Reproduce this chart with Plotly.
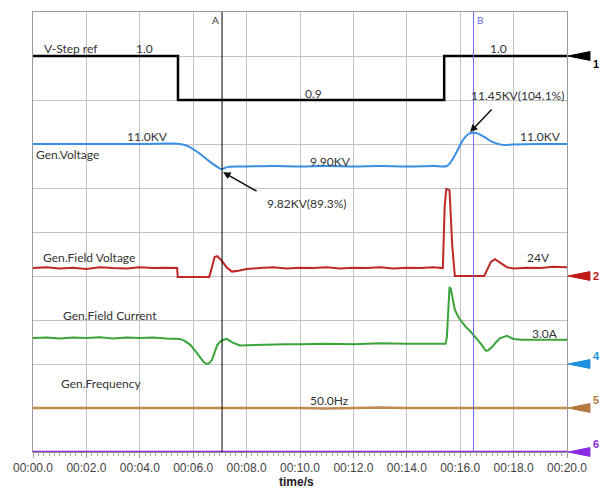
import plotly.graph_objects as go

# ---------------- data (screen divisions, oscilloscope style) ----------------
tick_vals = [0, 2, 4, 6, 8, 10, 12, 14, 16, 18, 20]
tick_text = ["00:00.0", "00:02.0", "00:04.0", "00:06.0", "00:08.0", "00:10.0",
             "00:12.0", "00:14.0", "00:16.0", "00:18.0", "00:20.0"]

vstep_t = [0, 5.43, 5.43, 15.4, 15.4, 20]
vstep_v = [9, 9, 8, 8, 9, 9]

volt_t = [0, 2, 4, 5.5, 5.8, 6.2, 6.6, 6.9, 7.05, 7.3, 8, 9, 10, 11, 12, 13, 14, 15, 15.5,
          15.7, 15.9, 16.1, 16.35, 16.6, 16.9, 17.2, 17.6, 18, 19, 20]
volt_v = [7.0, 7.0, 7.0, 7.0, 6.95, 6.8, 6.61, 6.48, 6.43, 6.48, 6.49, 6.5, 6.49, 6.5, 6.49,
          6.5, 6.49, 6.5, 6.5, 6.64, 6.86, 7.09, 7.24, 7.25, 7.16, 7.05, 6.98, 6.99, 7.0, 7.0]

fv_t = [0, 0.5, 1, 1.5, 2, 2.5, 3, 3.5, 4, 4.5, 5, 5.4, 5.42, 6.6, 6.68, 6.8, 6.9, 7.05,
        7.25, 7.45, 7.7, 8.0, 8.5, 9, 9.5, 10, 10.5, 11, 11.5, 12, 12.5, 13, 13.5, 14,
        14.5, 15, 15.35, 15.42, 15.48, 15.6, 15.7, 15.8, 16.9, 17.0, 17.15, 17.3, 17.5,
        17.75, 18.0, 18.5, 19, 19.5, 20]
fv_v = [4.18, 4.2, 4.17, 4.19, 4.16, 4.2, 4.18, 4.17, 4.2, 4.18, 4.19, 4.18, 3.98, 3.98,
        4.15, 4.43, 4.45, 4.36, 4.2, 4.1, 4.12, 4.16, 4.18, 4.2, 4.17, 4.19, 4.18, 4.2,
        4.17, 4.19, 4.18, 4.2, 4.17, 4.19, 4.18, 4.2, 4.18, 5.6, 5.98, 5.95, 4.7, 4.0,
        4.0, 4.14, 4.32, 4.38, 4.3, 4.2, 4.17, 4.19, 4.18, 4.21, 4.2]

fc_t = [0, 0.5, 1, 1.5, 2, 2.5, 3, 3.5, 4, 4.5, 5, 5.5, 5.7, 5.9, 6.1, 6.25, 6.4, 6.5,
        6.6, 6.7, 6.8, 6.9, 7.0, 7.1, 7.25, 7.4, 7.5, 7.75, 8.2, 8.75, 9.5, 10, 11, 12, 13,
        14, 15, 15.45, 15.5, 15.55, 15.6, 15.65, 15.7, 15.8, 15.95, 16.07, 16.2, 16.37,
        16.5, 16.67, 16.8, 16.9, 16.97, 17.05, 17.2, 17.35, 17.5, 17.75, 18.0, 18.25, 19, 20]
fc_v = [2.59, 2.6, 2.58, 2.6, 2.59, 2.61, 2.58, 2.6, 2.59, 2.6, 2.58, 2.57, 2.52, 2.43,
        2.28, 2.16, 2.04, 2.0, 2.02, 2.09, 2.25, 2.43, 2.5, 2.54, 2.57, 2.52, 2.48, 2.42,
        2.43, 2.44, 2.45, 2.45, 2.46, 2.45, 2.47, 2.46, 2.47, 2.46, 2.6, 3.4, 3.75, 3.7,
        3.52, 3.23, 3.05, 2.95, 2.85, 2.75, 2.66, 2.55, 2.44, 2.35, 2.3, 2.31, 2.39, 2.5,
        2.59, 2.64, 2.57, 2.55, 2.55, 2.55]

freq_t = [0, 2, 4, 6, 7, 8, 9, 10, 11, 12, 13, 14, 15, 16, 16.5, 17, 18, 19, 20]
freq_v = [1.0, 1.0, 1.0, 1.0, 1.01, 1.0, 1.0, 1.0, 0.99, 1.0, 1.01, 1.0, 1.0, 1.0,
          0.99, 1.0, 1.0, 1.0, 1.0]

ch6_t = [0, 20]
ch6_v = [0, 0]

cursor_a = 7.08
cursor_b = 16.5

marker_levels = [9, 4, 2, 1, 0]
marker_labels = ["1", "2", "4", "5", "6"]
marker_colors = ["#000000", "#c01818", "#1e90e0", "#b87840", "#8a2be2"]

# ---------------- figure ----------------
fig = go.Figure()
fig.add_trace(go.Scatter(x=vstep_t, y=vstep_v, mode="lines",
                         line=dict(color="#000000", width=2.5)))
fig.add_trace(go.Scatter(x=volt_t, y=volt_v, mode="lines", line_shape="spline",
                         line=dict(color="#3a8ee4", width=2)))
fig.add_trace(go.Scatter(x=fv_t, y=fv_v, mode="lines",
                         line=dict(color="#c02828", width=2)))
fig.add_trace(go.Scatter(x=fc_t, y=fc_v, mode="lines",
                         line=dict(color="#3aa43a", width=2)))
fig.add_trace(go.Scatter(x=freq_t, y=freq_v, mode="lines",
                         line=dict(color="#c08a50", width=2.5)))
fig.add_trace(go.Scatter(x=ch6_t, y=ch6_v, mode="lines", cliponaxis=False,
                         line=dict(color="#8a2be2", width=2.5)))

# cursors
fig.add_shape(type="line", xref="x", yref="paper", x0=cursor_a, x1=cursor_a, y0=0, y1=1,
              line=dict(color="#000000", width=1))
fig.add_shape(type="line", xref="x", yref="paper", x0=cursor_b, x1=cursor_b, y0=0, y1=1,
              line=dict(color="#6a6ae8", width=1))
fig.add_annotation(x=cursor_a, y=1.0, xref="x", yref="paper", text="A", showarrow=False,
                   xanchor="right", yanchor="top", xshift=-1,
                   font=dict(family="Lato", size=10, color="#333"))
fig.add_annotation(x=cursor_b, y=1.0, xref="x", yref="paper", text="B", showarrow=False,
                   xanchor="left", yanchor="top", xshift=1,
                   font=dict(family="Lato", size=10, color="#6a6ae8"))

# right channel markers
for lvl, lab, col in zip(marker_levels, marker_labels, marker_colors):
    yp = lvl / 10
    fig.add_shape(type="path", xref="paper", yref="paper",
                  path=f"M 1.002 {yp} L 1.043 {yp + 0.010} L 1.043 {yp - 0.010} Z",
                  fillcolor=col, line=dict(color=col, width=1))
    fig.add_annotation(x=1.045, y=yp, xref="paper", yref="paper", text=f"<b>{lab}</b>",
                       showarrow=False, xanchor="left",
                       font=dict(family="Liberation Sans", size=11, color=col))

# text labels
tf = dict(family="Lato", size=12, color="#333333")
labels = [
    ("V-Step ref", 1.44, 9.18), ("1.0", 4.16, 9.18), ("1.0", 17.45, 9.18),
    ("0.9", 10.5, 8.14), ("11.45KV(104.1%)", 18.13, 8.11),
    ("11.0KV", 4.3, 7.18), ("Gen.Voltage", 1.3, 6.77), ("11.0KV", 19.0, 7.18),
    ("9.90KV", 11.16, 6.61), ("9.82KV(89.3%)", 10.26, 5.64),
    ("Gen.Field Voltage", 2.08, 4.43), ("24V", 18.95, 4.41),
    ("Gen.Field Current", 2.88, 3.11), ("3.0A", 19.18, 2.7),
    ("Gen.Frequency", 2.55, 1.55), ("50.0Hz", 11.1, 1.16),
]
for txt, xx, yy in labels:
    fig.add_annotation(x=xx, y=yy, text=txt, showarrow=False, font=tf)

# arrows
fig.add_annotation(x=16.37, y=7.27, ax=17.23, ay=7.82, axref="x", ayref="y", text="",
                   showarrow=True, arrowhead=2, arrowsize=1, arrowwidth=1.5, arrowcolor="#111")
fig.add_annotation(x=7.12, y=6.36, ax=8.43, ay=5.91, axref="x", ayref="y", text="",
                   showarrow=True, arrowhead=2, arrowsize=1, arrowwidth=1.5, arrowcolor="#111")

fig.add_annotation(x=0.494, y=-0.068, xref="paper", yref="paper", text="<b>time/s</b>",
                   showarrow=False, yanchor="middle",
                   font=dict(family="Liberation Sans", size=12, color="#222"))

fig.update_layout(
    width=604, height=488, showlegend=False,
    margin=dict(l=33, r=37, t=12, b=36),
    paper_bgcolor="white", plot_bgcolor="white",
    xaxis=dict(range=[0, 20], tickvals=tick_vals, ticktext=tick_text,
               showgrid=True, gridcolor="#c4c4c4", gridwidth=1,
               showline=True, linecolor="#999999", mirror=True, zeroline=False,
               ticks="outside", ticklen=5, tickcolor="#999999",
               minor=dict(ticks="outside", dtick=0.2, ticklen=3, tickcolor="#aaaaaa",
                          showgrid=False),
               tickfont=dict(family="Liberation Sans", size=12, color="#444")),
    yaxis=dict(range=[0, 10], dtick=1, showticklabels=False,
               showgrid=True, gridcolor="#c4c4c4", gridwidth=1,
               showline=True, linecolor="#999999", mirror=True, zeroline=False),
)

fig.write_html("out.html")
